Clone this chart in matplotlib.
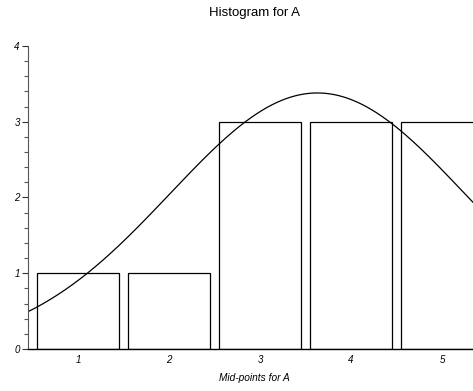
import numpy as np
import matplotlib
matplotlib.use('Agg')
import matplotlib.pyplot as plt
from matplotlib.ticker import MultipleLocator

plt.rcParams['font.family'] = ['Liberation Sans', 'DejaVu Sans']

# histogram data
midpoints = [1, 2, 3, 4, 5]
counts = [1, 1, 3, 3, 3]
bar_width = 0.9

# fitted normal curve
curve_mean = 3.63
curve_sd = 1.62
curve_peak = 3.38

fig = plt.figure(figsize=(4.73, 3.91), dpi=100)
ax = fig.add_axes([0.0592, 0.1074, 0.9408, 0.775])

ax.bar(midpoints, counts, width=bar_width, facecolor='white',
       edgecolor='black', linewidth=0.9)

xs = np.linspace(0.45, 5.34, 300)
ys = curve_peak * np.exp(-(xs - curve_mean) ** 2 / (2 * curve_sd ** 2))
ax.plot(xs, ys, color='black', linewidth=0.9)

ax.set_xlim(0.45, 5.34)
ax.set_ylim(0, 4)

ax.spines['top'].set_visible(False)
ax.spines['right'].set_visible(False)
ax.spines['left'].set_color('#555555')
ax.spines['bottom'].set_linewidth(1.0)

ax.set_xticks(midpoints)
ax.set_xticklabels([str(m) for m in midpoints], fontsize=7, style='italic')
ax.tick_params(axis='x', length=0, pad=4)

ax.yaxis.set_major_locator(MultipleLocator(1))
ax.yaxis.set_minor_locator(MultipleLocator(0.2))
ax.tick_params(axis='y', which='major', length=4, width=0.8, pad=2,
               labelsize=7, colors='#333333')
ax.tick_params(axis='y', which='minor', length=3, width=0.8, colors='#555555')
for lab in ax.get_yticklabels():
    lab.set_style('italic')
    lab.set_color('black')

fig.text(0.538, 0.967, 'Histogram for A', ha='center', va='center', fontsize=9.5)
fig.text(0.538, 0.033, 'Mid-points for A', ha='center', va='center',
         fontsize=7.3, style='italic')

fig.savefig('out.png', dpi=100)
